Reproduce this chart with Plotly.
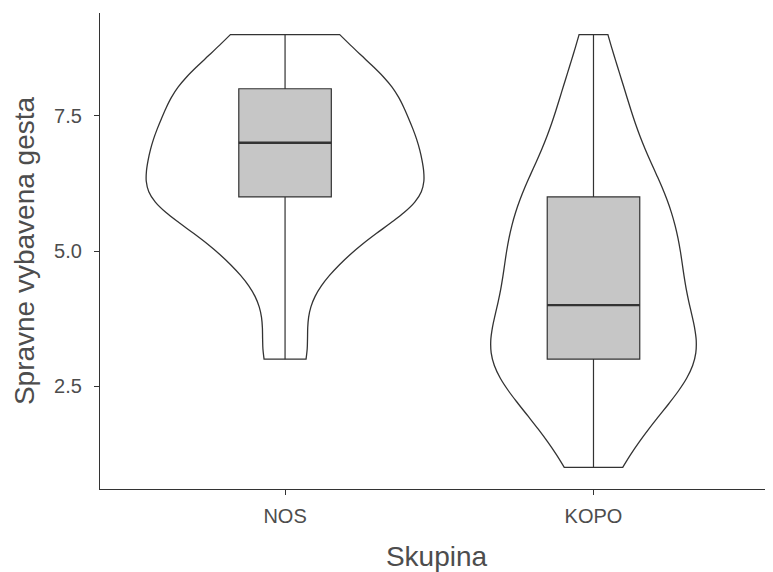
import numpy as np
import plotly.graph_objects as go

# ---- data ----
categories = ["NOS", "KOPO"]
scores = [1, 2, 3, 4, 5, 6, 7, 8, 9]
nos_counts = [0, 0, 3, 2, 7, 17, 15, 13, 6]
kopo_counts = [4, 10, 19, 14, 14, 12, 7, 5, 2]
y_ticks = [2.5, 5.0, 7.5]
x_title = "Skupina"
y_title = "Spravne vybavena gesta"

groups = {
    "NOS": np.repeat(scores, nos_counts).astype(float),
    "KOPO": np.repeat(scores, kopo_counts).astype(float),
}


def bw_nrd0(x):
    sd = np.std(x, ddof=1)
    iqr = np.quantile(x, 0.75) - np.quantile(x, 0.25)
    lo = min(sd, iqr / 1.34)
    return 0.9 * lo * len(x) ** -0.2


def kde_max(x, h):
    g = np.linspace(x.min(), x.max(), 512)
    d = np.exp(-0.5 * ((g[:, None] - x[None, :]) / h) ** 2).sum(1) / (len(x) * h * np.sqrt(2 * np.pi))
    return d.max()


bws = {k: bw_nrd0(v) for k, v in groups.items()}
maxd = {k: kde_max(groups[k], bws[k]) for k in categories}
top = max(maxd.values())

LINE = "#333333"
fig = go.Figure()
for i, cat in enumerate(categories, start=1):
    fig.add_trace(go.Violin(
        x0=i, y=groups[cat], name=cat, bandwidth=bws[cat], spanmode="hard",
        scalemode="width", width=0.9 * maxd[cat] / top,
        fillcolor="white", line=dict(color=LINE, width=1.3),
        points=False, box_visible=False, meanline_visible=False,
        hoverinfo="skip", showlegend=False,
    ))
for i, cat in enumerate(categories, start=1):
    fig.add_trace(go.Box(
        x0=i, y=groups[cat], name=cat, width=0.3, whiskerwidth=0,
        fillcolor="#C6C6C6", line=dict(color=LINE, width=1.2),
        boxpoints=False, quartilemethod="linear", hoverinfo="skip", showlegend=False,
    ))
for i, cat in enumerate(categories, start=1):
    med = float(np.median(groups[cat]))
    fig.add_trace(go.Scatter(
        x=[i - 0.15, i + 0.15], y=[med, med], mode="lines",
        line=dict(color=LINE, width=2.4), hoverinfo="skip", showlegend=False,
    ))

# the page body adds an 8px margin, so the figure is sized to fit the window
fig.update_layout(
    template="none",
    width=765, height=564,
    margin=dict(l=92, r=0, t=5, b=83),
    paper_bgcolor="white", plot_bgcolor="white",
    violinmode="overlay", boxmode="overlay",
    font=dict(family="Liberation Sans, Arial, sans-serif", color="#4D4D4D"),
    showlegend=False,
)
fig.update_xaxes(
    range=[0.4, 2.582], tickmode="array", tickvals=[1, 2], ticktext=categories,
    showline=True, linecolor=LINE, linewidth=1.2, mirror=False,
    ticks="outside", ticklen=5, tickcolor=LINE, tickwidth=1.2,
    showgrid=False, zeroline=False, automargin=False,
    tickfont=dict(size=20, color="#4D4D4D"), ticklabelstandoff=4,
    title=dict(text=x_title, font=dict(size=28, color="#4D4D4D"), standoff=22),
)
fig.update_yaxes(
    range=[0.6, 9.4], tickmode="array", tickvals=y_ticks, ticktext=[f"{t:.1f}" for t in y_ticks],
    showline=True, linecolor=LINE, linewidth=1.2, mirror=False,
    ticks="outside", ticklen=5, tickcolor=LINE, tickwidth=1.2,
    showgrid=False, zeroline=False, automargin=False,
    tickfont=dict(size=20, color="#4D4D4D"), ticklabelstandoff=8,
    title=dict(text=y_title, font=dict(size=28, color="#4D4D4D"), standoff=11),
)
fig.write_html("out.html")
